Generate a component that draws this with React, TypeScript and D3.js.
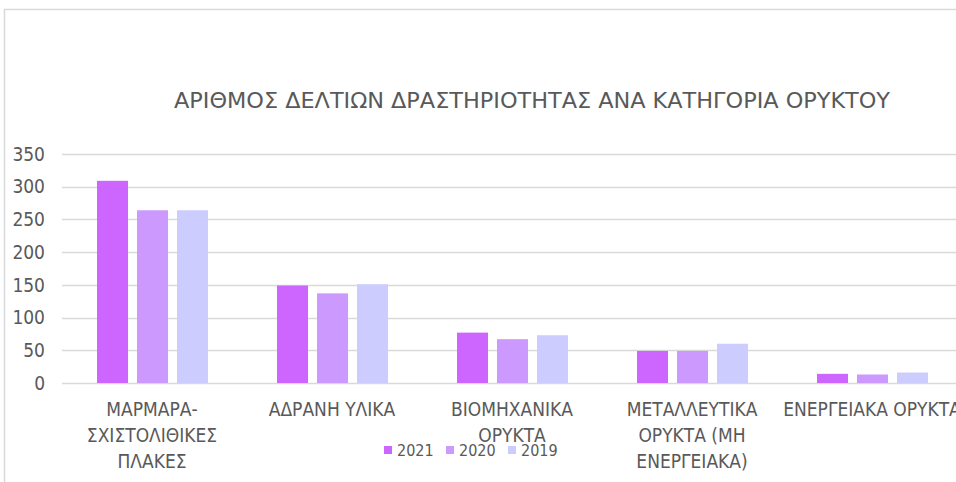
import React, { useEffect, useRef } from 'react';
import * as d3 from 'd3';

const categories = [
  ["ΜΑΡΜΑΡΑ-", "ΣΧΙΣΤΟΛΙΘΙΚΕΣ", "ΠΛΑΚΕΣ"],
  ["ΑΔΡΑΝΗ ΥΛΙΚΑ"],
  ["ΒΙΟΜΗΧΑΝΙΚΑ", "ΟΡΥΚΤΑ"],
  ["ΜΕΤΑΛΛΕΥΤΙΚΑ", "ΟΡΥΚΤΑ (ΜΗ", "ΕΝΕΡΓΕΙΑΚΑ)"],
  ["ΕΝΕΡΓΕΙΑΚΑ ΟΡΥΚΤΑ"]
];
const years = ["2021", "2020", "2019"];
const values2021 = [309, 149, 77, 49, 14];
const values2020 = [264, 137, 67, 49, 13];
const values2019 = [264, 151, 73, 60, 16];
const yTicks = [0, 50, 100, 150, 200, 250, 300, 350];
const colors = ["#CC66FF", "#CC99FF", "#CCCCFF"];

const FONT = "'DejaVu Sans Condensed', 'Liberation Sans', sans-serif";

const App = () => {
  const ref = useRef<SVGSVGElement>(null);

  useEffect(() => {
    const svg = d3.select(ref.current);
    svg.selectAll("*").remove();

    const series = [values2021, values2020, values2019];
    const keys = categories.map(c => c.join(" "));

    const x0 = d3.scaleBand().domain(keys).range([62, 962]);
    const x1 = d3.scaleBand().domain(years).range([35, 146]).paddingInner(0.225);
    const y = d3.scaleLinear().domain([0, 350]).range([383, 154]);

    // chart frame (cropped)
    svg.append("path")
      .attr("d", "M4.5,482 L4.5,9.5 L960,9.5")
      .attr("fill", "none")
      .attr("stroke", "#d9d9d9")
      .attr("stroke-width", 1.5);

    svg.append("text")
      .attr("x", 532)
      .attr("y", 108)
      .attr("text-anchor", "middle")
      .attr("font-family", FONT)
      .attr("font-size", 22)
      .attr("fill", "#595959")
      .attr("textLength", 716)
      .attr("lengthAdjust", "spacingAndGlyphs")
      .text("ΑΡΙΘΜΟΣ ΔΕΛΤΙΩΝ ΔΡΑΣΤΗΡΙΟΤΗΤΑΣ ΑΝΑ ΚΑΤΗΓΟΡΙΑ ΟΡΥΚΤΟΥ");

    // gridlines
    svg.append("g")
      .selectAll("line")
      .data(yTicks)
      .enter()
      .append("line")
      .attr("x1", 62)
      .attr("x2", 962)
      .attr("y1", d => Math.round(y(d)) + 0.5)
      .attr("y2", d => Math.round(y(d)) + 0.5)
      .attr("stroke", "#d9d9d9")
      .attr("stroke-width", 1.5);

    svg.append("g")
      .selectAll("text")
      .data(yTicks)
      .enter()
      .append("text")
      .attr("x", 45)
      .attr("y", d => y(d))
      .attr("dy", "0.35em")
      .attr("text-anchor", "end")
      .attr("font-family", FONT)
      .attr("font-size", 19)
      .attr("fill", "#595959")
      .text(d => d);

    // bars
    const groups = svg.append("g")
      .selectAll("g")
      .data(keys)
      .enter()
      .append("g")
      .attr("transform", d => `translate(${x0(d)},0)`);

    groups.selectAll("rect")
      .data((d, i) => years.map((yr, j) => ({ yr, v: series[j][i], c: colors[j] })))
      .enter()
      .append("rect")
      .attr("x", d => x1(d.yr)!)
      .attr("y", d => y(d.v))
      .attr("width", x1.bandwidth())
      .attr("height", d => y(0) - y(d.v))
      .attr("fill", d => d.c);

    // category labels
    const labels = svg.append("g")
      .selectAll("text")
      .data(categories)
      .enter()
      .append("text")
      .attr("x", (d, i) => x0(keys[i])! + x0.bandwidth() / 2)
      .attr("y", 416)
      .attr("text-anchor", "middle")
      .attr("font-family", FONT)
      .attr("font-size", 19)
      .attr("fill", "#595959");

    labels.selectAll("tspan")
      .data(d => d)
      .enter()
      .append("tspan")
      .attr("x", function () {
        return (this as SVGTSpanElement).parentElement!.getAttribute("x");
      })
      .attr("dy", (d, i) => (i === 0 ? 0 : 26))
      .text(d => d);

    // legend
    const legend = svg.append("g")
      .selectAll("g")
      .data(years)
      .enter()
      .append("g")
      .attr("transform", (d, i) => `translate(${384 + i * 62},0)`);

    legend.append("rect")
      .attr("x", 0)
      .attr("y", 446)
      .attr("width", 8)
      .attr("height", 8)
      .attr("fill", (d, i) => colors[i]);

    legend.append("text")
      .attr("x", 13)
      .attr("y", 456)
      .attr("font-family", FONT)
      .attr("font-size", 16)
      .attr("fill", "#595959")
      .text(d => d);
  }, []);

  return (
    <svg
      ref={ref}
      width={956}
      height={482}
      style={{ position: "absolute", left: 0, top: 0, background: "#fff" }}
    />
  );
};

export default App;
